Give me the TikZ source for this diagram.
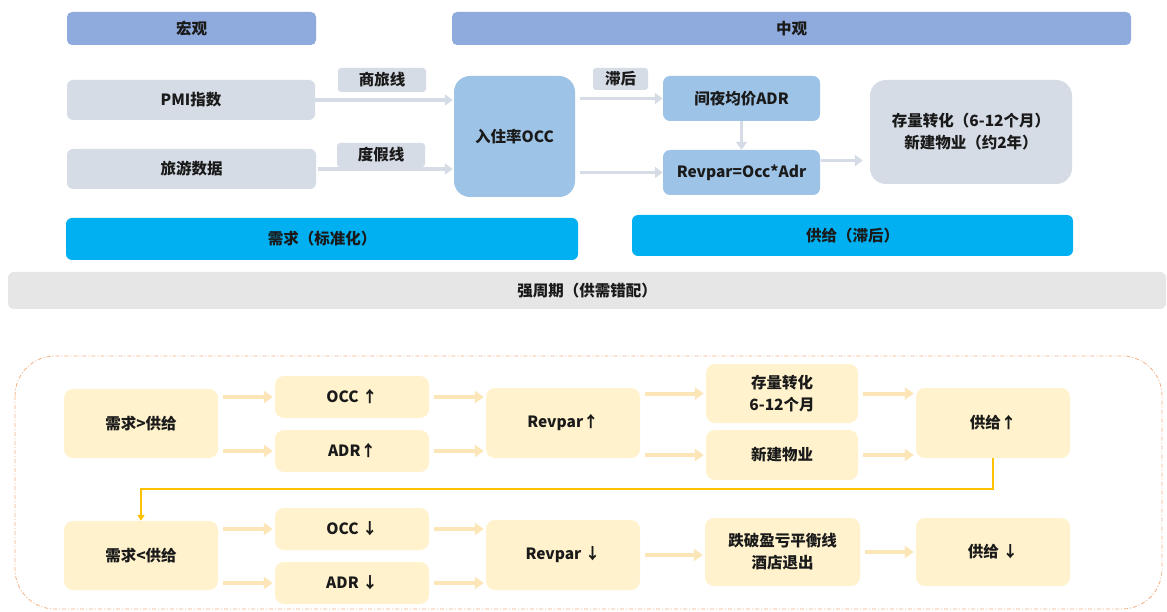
\documentclass[tikz,border=0pt]{standalone}
\usepackage{fontspec}
\setmainfont{Noto Sans CJK SC}
\usetikzlibrary{arrows.meta,calc}
\definecolor{macro}{HTML}{8FAADC}
\definecolor{greybox}{HTML}{D6DCE5}
\definecolor{occblue}{HTML}{9DC3E6}
\definecolor{cyanbar}{HTML}{00B0F0}
\definecolor{cyclegrey}{HTML}{E7E6E6}
\definecolor{ybox}{HTML}{FFF2CC}
\definecolor{yarrow}{HTML}{FCE6B8}
\definecolor{yline}{HTML}{FFC000}
\definecolor{dashor}{HTML}{F4B183}
\definecolor{txt}{HTML}{1A1A1A}
\tikzset{
  base/.style={inner sep=2pt, align=center, text=txt, font=\fontsize{15.5}{22}\selectfont\bfseries},
  macrobox/.style={base, fill=macro, rounded corners=5pt},
  greyin/.style={base, fill=greybox, rounded corners=6pt},
  tag/.style={base, fill=greybox, rounded corners=3pt},
  bluebox/.style={base, fill=occblue, rounded corners=8pt},
  cyanbox/.style={base, fill=cyanbar, rounded corners=6pt},
  cyclebox/.style={base, fill=cyclegrey, rounded corners=6pt},
  ybx/.style={base, fill=ybox, rounded corners=9pt},
  garrow/.style={draw=greybox, line width=3.5pt, -{Triangle[width=11pt,length=8pt]}},
  yarr/.style={draw=yarrow, line width=4pt, -{Triangle[width=12pt,length=9pt]}},
  ylink/.style={draw=yline, line width=2pt, -{Triangle[width=7pt,length=6pt]}},
}
\begin{document}
\begin{tikzpicture}[x=1pt,y=-1pt]
\fill[white] (0,0) rectangle (1167,612);
\useasboundingbox (0,0) rectangle (1167,612);

% header bars
\node[macrobox, minimum width=249pt, minimum height=33pt] (hg) at (191.5,28.5) {宏观};
\node[macrobox, minimum width=679pt, minimum height=33pt] (zg) at (791.5,28.5) {中观};

% top flow
\node[greyin, minimum width=248pt, minimum height=40pt] (pmi) at (191,100) {PMI指数};
\node[greyin, minimum width=249pt, minimum height=40pt] (ly) at (191.5,169) {旅游数据};
\node[tag, minimum width=88pt, minimum height=24pt] (sl) at (382,80) {商旅线};
\node[tag, minimum width=88pt, minimum height=24pt] (dj) at (381,155) {度假线};
\node[bluebox, rounded corners=16pt, minimum width=121pt, minimum height=121pt] (occ) at (514.5,136.5) {入住率OCC};
\node[tag, minimum width=55pt, minimum height=22pt] (zh) at (620.5,79) {滞后};
\node[bluebox, rounded corners=7pt, minimum width=157pt, minimum height=45pt] (adr) at (741.5,98.5) {间夜均价ADR};
\node[bluebox, rounded corners=7pt, minimum width=157pt, minimum height=45pt] (rev) at (741.5,172.5) {Revpar=Occ*Adr};
\node[greyin, rounded corners=16pt, minimum width=202pt, minimum height=104pt] (cl) at (971,132) {存量转化（6-12个月）\\新建物业（约2年）};

\draw[garrow] (pmi.east) -- ([xshift=-1pt]pmi.east -| occ.west);
\draw[garrow] ([xshift=2pt]ly.east) -- ([xshift=-1pt]ly.east -| occ.west);
\draw[garrow] ([xshift=5pt]occ.east |- adr.west) -- (adr.west);
\draw[garrow] ([xshift=5pt]occ.east |- rev.west) -- (rev.west);
\draw[garrow] (adr.south) -- (rev.north);
\draw[garrow] ([xshift=1pt,yshift=12pt]rev.east) -- ([xshift=-7pt,yshift=12pt]rev.east -| cl.west);

\node[cyanbox, minimum width=512pt, minimum height=42pt] (xq) at (322,239) {需求（标准化）};
\node[cyanbox, minimum width=441pt, minimum height=41pt] (gj) at (852.5,235.5) {供给（滞后）};
\node[cyclebox, minimum width=1158pt, minimum height=37pt] (qzq) at (587,290.5) {强周期（供需错配）};

% bottom frame
\draw[dashor, line width=0.8pt, dash pattern=on 4pt off 2pt on 1pt off 2pt, rounded corners=40pt] (15,356) rectangle (1162,609);

% bottom upper row
\node[ybx, minimum width=154pt, minimum height=69pt] (dg1) at (141,423.5) {需求>供给};
\node[ybx, minimum width=154pt, minimum height=42pt] (occu) at (352,397) {OCC ↑};
\node[ybx, minimum width=154pt, minimum height=42pt] (adru) at (352,451) {ADR↑};
\node[ybx, minimum width=154pt, minimum height=70pt] (rev1) at (563,423) {Revpar↑};
\node[ybx, minimum width=152pt, minimum height=59pt] (cl2) at (782,393.5) {存量转化\\6-12个月};
\node[ybx, minimum width=152pt, minimum height=50pt] (xj) at (782,455) {新建物业};
\node[ybx, minimum width=154pt, minimum height=70pt] (sup1) at (993,423) {供给↑};

% bottom lower row
\node[ybx, minimum width=154pt, minimum height=69pt] (dg2) at (141,555.5) {需求<供给};
\node[ybx, minimum width=154pt, minimum height=42pt] (occd) at (352,529) {OCC ↓};
\node[ybx, minimum width=154pt, minimum height=42pt] (adrd) at (352,583) {ADR ↓};
\node[ybx, minimum width=154pt, minimum height=70pt] (rev2) at (563,555) {Revpar ↓};
\node[ybx, minimum width=155pt, minimum height=68pt] (db) at (782.5,552) {跌破盈亏平衡线\\酒店退出};
\node[ybx, minimum width=154pt, minimum height=68pt] (sup2) at (993,552) {供给 ↓};

% bottom arrows
\draw[yarr] ([xshift=5pt]dg1.east |- occu.west) -- ([xshift=-2pt]occu.west);
\draw[yarr] ([xshift=5pt]dg1.east |- adru.west) -- ([xshift=-2pt]adru.west);
\draw[yarr] ([xshift=5pt]occu.east) -- ([xshift=-2pt]occu.east -| rev1.west);
\draw[yarr] ([xshift=5pt]adru.east) -- ([xshift=-2pt]adru.east -| rev1.west);
\draw[yarr] ([xshift=5pt]rev1.east |- cl2.west) -- ([xshift=-2pt]cl2.west);
\draw[yarr] ([xshift=5pt]rev1.east |- xj.west) -- ([xshift=-2pt]xj.west);
\draw[yarr] ([xshift=5pt]cl2.east) -- ([xshift=-2pt]cl2.east -| sup1.west);
\draw[yarr] ([xshift=5pt]xj.east) -- ([xshift=-2pt]xj.east -| sup1.west);

\draw[yarr] ([xshift=5pt]dg2.east |- occd.west) -- ([xshift=-2pt]occd.west);
\draw[yarr] ([xshift=5pt]dg2.east |- adrd.west) -- ([xshift=-2pt]adrd.west);
\draw[yarr] ([xshift=5pt]occd.east) -- ([xshift=-2pt]occd.east -| rev2.west);
\draw[yarr] ([xshift=5pt]adrd.east) -- ([xshift=-2pt]adrd.east -| rev2.west);
\draw[yarr] ([xshift=5pt]rev2.east) -- ([xshift=-2pt]rev2.east -| db.west);
\draw[yarr] ([xshift=5pt]db.east) -- ([xshift=-2pt]db.east -| sup2.west);

% cycle link
\coordinate (turn) at (0,489);
\draw[ylink] (sup1.south) -- (sup1.south |- turn) -| (dg2.north);
\end{tikzpicture}
\end{document}
